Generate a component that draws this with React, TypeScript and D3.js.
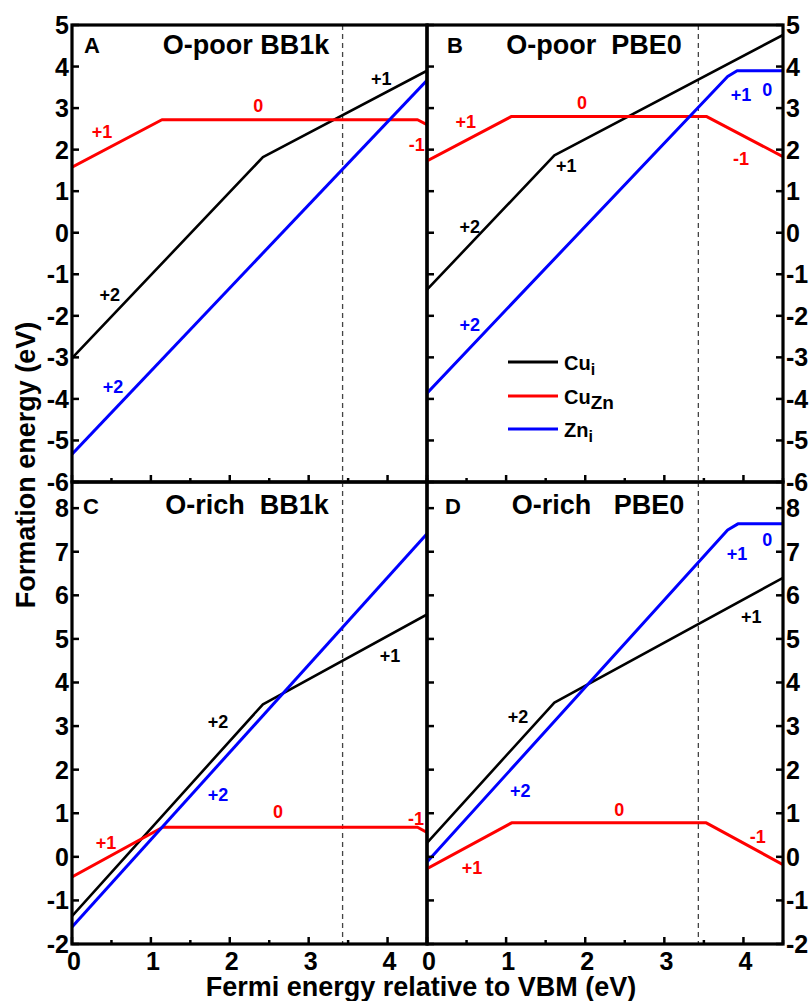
import React from 'react';
import * as d3 from 'd3';

type Pt = [number, number];
type ChargeLabel = [string, string, number, number];

// transition levels (Fermi energy, formation energy) in eV
const cuiPoorBB1k: Pt[] = [[0, -3.02], [2.42, 1.82], [4.5, 3.9]];
const cuznPoorBB1k: Pt[] = [[0, 1.58], [1.14, 2.72], [4.38, 2.72], [4.5, 2.6]];
const zniPoorBB1k: Pt[] = [[0, -5.33], [4.5, 3.67]];

const cuiPoorPBE0: Pt[] = [[0, -1.37], [1.61, 1.86], [4.5, 4.76]];
const cuznPoorPBE0: Pt[] = [[0, 1.73], [1.07, 2.8], [3.53, 2.8], [4.5, 1.83]];
const zniPoorPBE0: Pt[] = [[0, -3.86], [3.8, 3.76], [3.92, 3.9], [4.5, 3.9]];

const cuiRichBB1k: Pt[] = [[0, -1.36], [2.42, 3.5], [4.5, 5.56]];
const cuznRichBB1k: Pt[] = [[0, -0.46], [1.15, 0.68], [4.38, 0.68], [4.5, 0.56]];
const zniRichBB1k: Pt[] = [[0, -1.61], [4.5, 7.41]];

const cuiRichPBE0: Pt[] = [[0, 0.32], [1.61, 3.54], [4.5, 6.4]];
const cuznRichPBE0: Pt[] = [[0, -0.27], [1.07, 0.78], [3.53, 0.78], [4.5, -0.18]];
const zniRichPBE0: Pt[] = [[0, -0.12], [3.8, 7.5], [3.93, 7.64], [4.5, 7.64]];

// charge state labels: text, series, x, y (eV)
const labelsA: ChargeLabel[] = [
  ['+1', 'cuzn', 0.38, 2.42], ['0', 'cuzn', 2.36, 3.05], ['-1', 'cuzn', 4.37, 2.11],
  ['+1', 'cui', 3.92, 3.7], ['+2', 'cui', 0.48, -1.5], ['+2', 'zni', 0.52, -3.71],
];
const labelsB: ChargeLabel[] = [
  ['+1', 'cuzn', 0.49, 2.66], ['0', 'cuzn', 1.96, 3.12], ['-1', 'cuzn', 3.97, 1.77],
  ['+1', 'cui', 1.76, 1.61], ['+2', 'cui', 0.54, 0.14],
  ['+1', 'zni', 3.97, 3.31], ['0', 'zni', 4.3, 3.44], ['+2', 'zni', 0.54, -2.22],
];
const labelsC: ChargeLabel[] = [
  ['+2', 'cui', 1.85, 3.1], ['+1', 'cui', 4.03, 4.61], ['+2', 'zni', 1.85, 1.42],
  ['0', 'cuzn', 2.61, 1.03], ['+1', 'cuzn', 0.43, 0.32], ['-1', 'cuzn', 4.36, 0.87],
];
const labelsD: ChargeLabel[] = [
  ['+1', 'zni', 3.92, 6.95], ['0', 'zni', 4.3, 7.27], ['+2', 'zni', 1.18, 1.51],
  ['+1', 'cui', 4.1, 5.5], ['+2', 'cui', 1.15, 3.21],
  ['0', 'cuzn', 2.43, 1.07], ['-1', 'cuzn', 4.18, 0.46], ['+1', 'cuzn', 0.57, -0.26],
];

const xTicks = [0, 1, 2, 3, 4];
const xMinorTicks = [0.5, 1.5, 2.5, 3.5, 4.5];
const topYTicks = [-6, -5, -4, -3, -2, -1, 0, 1, 2, 3, 4, 5];
const bottomYTicks = [-2, -1, 0, 1, 2, 3, 4, 5, 6, 7, 8];
const bandGap = 3.43;

const colors: Record<string, string> = { cui: '#000000', cuzn: '#ff0000', zni: '#0000ff' };
const FONT = "'Liberation Sans', Arial, Helvetica, sans-serif";

const xLeft = d3.scaleLinear().domain([0, 4.5]).range([72, 427]);
const xRight = d3.scaleLinear().domain([0, 4.5]).range([427, 783]);
const yTop = d3.scaleLinear().domain([-6, 5]).range([482, 25]);
const yBottom = d3.scaleLinear().domain([-2, 8.6]).range([944, 482]);

const panels = [
  { id: 'A', title: 'O-poor BB1k', titleX: 246, col: 0, row: 0, letterDx: 12, series: { cui: cuiPoorBB1k, cuzn: cuznPoorBB1k, zni: zniPoorBB1k }, labels: labelsA },
  { id: 'B', title: 'O-poor  PBE0', titleX: 594, col: 1, row: 0, letterDx: 20, series: { cui: cuiPoorPBE0, cuzn: cuznPoorPBE0, zni: zniPoorPBE0 }, labels: labelsB },
  { id: 'C', title: 'O-rich  BB1k', titleX: 247, col: 0, row: 1, letterDx: 11, series: { cui: cuiRichBB1k, cuzn: cuznRichBB1k, zni: zniRichBB1k }, labels: labelsC },
  { id: 'D', title: 'O-rich   PBE0', titleX: 598, col: 1, row: 1, letterDx: 18, series: { cui: cuiRichPBE0, cuzn: cuznRichPBE0, zni: zniRichPBE0 }, labels: labelsD },
];

const Panel = ({ p }: { p: (typeof panels)[number] }) => {
  const x = p.col === 0 ? xLeft : xRight;
  const y = p.row === 0 ? yTop : yBottom;
  const yTicks = p.row === 0 ? topYTicks : bottomYTicks;
  const [x0, x1] = x.range();
  const [y1, y0] = y.range();
  const line = d3.line<Pt>().x((d) => x(d[0])).y((d) => y(d[1]));
  const clipId = `clip-${p.id}`;
  const letterY = p.row === 0 ? y0 + 28 : y0 + 32;
  const titleY = p.row === 0 ? y0 + 29 : y0 + 32;

  return (
    <g>
      <defs>
        <clipPath id={clipId}>
          <rect x={x0} y={y0} width={x1 - x0} height={y1 - y0} />
        </clipPath>
      </defs>
      <g clipPath={`url(#${clipId})`}>
        <line x1={x(bandGap)} x2={x(bandGap)} y1={y0} y2={y1} stroke="#444" strokeWidth={1.3} strokeDasharray="5,4" />
        {Object.entries(p.series).map(([k, pts]) => (
          <path key={k} d={line(pts) || ''} fill="none" stroke={colors[k]} strokeWidth={k === 'cui' ? 2.6 : 3} strokeLinejoin="round" />
        ))}
      </g>
      {p.labels.map(([t, k, lx, ly], i) => (
        <text key={i} x={x(lx)} y={y(ly)} fill={colors[k]} fontSize={18} fontWeight="bold" fontFamily={FONT} textAnchor="middle" dominantBaseline="central">
          {t}
        </text>
      ))}
      <text x={x0 + p.letterDx} y={letterY} fontSize={22} fontWeight="bold" fontFamily={FONT}>{p.id}</text>
      <text x={p.titleX} y={titleY} fontSize={27} fontWeight="bold" fontFamily={FONT} textAnchor="middle" style={{ whiteSpace: 'pre' }}>
        {p.title}
      </text>

      {/* x ticks along the bottom edge, inward */}
      {xTicks.map((t) => (
        <line key={`xm${t}`} x1={x(t)} x2={x(t)} y1={y1} y2={y1 - 7} stroke="#000" strokeWidth={2.5} />
      ))}
      {xMinorTicks.map((t) => (
        <line key={`xn${t}`} x1={x(t)} x2={x(t)} y1={y1} y2={y1 - 4} stroke="#000" strokeWidth={2.5} />
      ))}
      {/* y ticks: left edge pointing right */}
      {yTicks.map((t) => (
        <line key={`yl${t}`} x1={x0} x2={x0 + 7} y1={y(t)} y2={y(t)} stroke="#000" strokeWidth={2.5} />
      ))}
      {p.col === 1 && yTicks.map((t) => (
        <line key={`yr${t}`} x1={x1} x2={x1 - 7} y1={y(t)} y2={y(t)} stroke="#000" strokeWidth={2.5} />
      ))}

      {p.col === 0 && yTicks.map((t) => (
        <text key={`tl${t}`} x={x0 - 3} y={y(t)} fontSize={25} fontWeight="bold" fontFamily={FONT} textAnchor="end" dominantBaseline="central">
          {t}
        </text>
      ))}
      {p.col === 1 && yTicks.map((t) => (
        <text key={`tr${t}`} x={x1 + 3} y={y(t)} fontSize={25} fontWeight="bold" fontFamily={FONT} textAnchor="start" dominantBaseline="central">
          {t}
        </text>
      ))}
      {p.row === 1 && xTicks.map((t) => (
        <text key={`tx${t}`} x={x(t) + 2} y={970} fontSize={25} fontWeight="bold" fontFamily={FONT} textAnchor="middle">
          {t}
        </text>
      ))}

      <rect x={x0} y={y0} width={x1 - x0} height={y1 - y0} fill="none" stroke="#000" strokeWidth={3.2} />
    </g>
  );
};

const legendItems = [
  { key: 'cui', main: 'Cu', sub: 'i' },
  { key: 'cuzn', main: 'Cu', sub: 'Zn' },
  { key: 'zni', main: 'Zn', sub: 'i' },
];

export default function App() {
  const lx = xRight(0) + 81;
  const ly = [362, 396, 429];
  return (
    <svg width={810} height={1001} viewBox="0 0 810 1001" style={{ position: 'absolute', left: 0, top: 0, background: '#fff' }}>
      <rect width={810} height={1001} fill="#fff" />
      {panels.map((p) => (
        <Panel key={p.id} p={p} />
      ))}

      {legendItems.map((it, i) => (
        <g key={it.key}>
          <line x1={lx} x2={lx + 50} y1={ly[i]} y2={ly[i]} stroke={colors[it.key]} strokeWidth={3} />
          <text x={lx + 56} y={ly[i] + 8} fontSize={20} fontWeight="bold" fontFamily={FONT}>
            {it.main}
            <tspan dy={5} fontSize={it.sub === 'Zn' ? 19 : 16}>{it.sub}</tspan>
          </text>
        </g>
      ))}

      <text x={421} y={996} fontSize={27} fontWeight="bold" fontFamily={FONT} textAnchor="middle">
        Fermi energy relative to VBM (eV)
      </text>
      <text transform="translate(35,465) rotate(-90)" fontSize={27} fontWeight="bold" fontFamily={FONT} textAnchor="middle">
        Formation energy (eV)
      </text>
    </svg>
  );
}
